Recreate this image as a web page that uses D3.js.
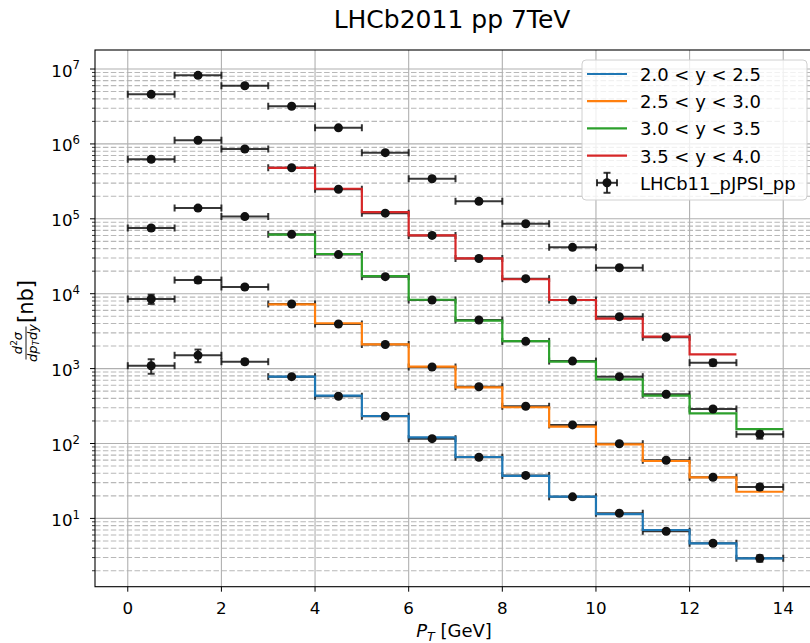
<!DOCTYPE html>
<html><head><meta charset="utf-8">
<script src="https://cdn.jsdelivr.net/npm/d3@7"></script>
<style>
html,body{margin:0;padding:0;background:#fff;}
svg text{font-family:"DejaVu Sans",sans-serif;}
</style></head>
<body>
<svg id="chart" width="810" height="643"></svg>
<script>
// ---- data ----
const ptCenters = [0.5,1.5,2.5,3.5,4.5,5.5,6.5,7.5,8.5,9.5,10.5,11.5,12.5,13.5];
const stepEdges = [3,4,5,6,7,8,9,10,11,12,13,14];
const seriesLabels = ["2.0 < y < 2.5","2.5 < y < 3.0","3.0 < y < 3.5","3.5 < y < 4.0"];
const seriesColors = ["#1f77b4","#ff7f0e","#2ca02c","#d62728"];
const stepBlue   = [780,435,233,121,66,37,19.5,11.4,7.0,4.65,2.93];
const stepOrange = [7200,4030,2110,1060,563,305,168,97.5,58.4,35.4,22.7];
const stepGreen  = [61400,33900,17200,8300,4360,2330,1240,720,435,253,156];
const stepRed    = [480000,252000,123000,60200,29700,15600,8240,4640,2670,1550];
const dataRow1 = [1093,1506,1236,780,427,231,116,65.5,37.5,19.4,11.7,6.73,4.65,2.93];
const errRow1  = [240,290,90,40,20,10,5,3,1.5,0.8,0.5,0.3,0.25,0.3];
const dataRow2 = [8500,15200,12300,7300,3940,2100,1050,573,314,177,99.4,59.7,35.4,26.2];
const errRow2  = [1200,1300,700,300,150,80,40,20,12,7,4,2.5,2,2.5];
const dataRow3 = [75400,139000,107000,62000,33300,16900,8240,4450,2310,1260,780,454,289,133];
const errRow3  = [5000,7000,5000,2500,1300,650,300,170,90,50,30,20,15,17];
const dataRow4 = [623000,1120000,855000,481000,248000,119000,60000,29500,15900,8240,4930,2620,1200];
const errRow4  = [40000,60000,40000,20000,10000,5000,2400,1200,650,350,220,130,110];
const dataRow5 = [4590000,8240000,5980000,3180000,1640000,764000,343000,171000,86000,41600,22200];
const errRow5  = [250000,400000,300000,150000,70000,30000,14000,7000,3500,1800,1100];
const xTicks = [0,2,4,6,8,10,12,14];
const yTickExps = [1,2,3,4,5,6,7];
const dataLabel = "LHCb11_pJPSI_pp";
const titleText = "LHCb2011 pp 7TeV";

// ---- layout ----
const L = 95, R = 816, T = 50, B = 586.7;
const svg = d3.select("#chart");
const x = d3.scaleLinear().domain([-0.7, 14.7]).range([L, R]);
const y = d3.scaleLog().domain([1.2246, 1.795e7]).range([B, T]);

svg.append("defs").append("clipPath").attr("id","clip")
  .append("rect").attr("x",L).attr("y",T).attr("width",R-L).attr("height",B-T);

const grid = svg.append("g");
// minor y grid
const minorVals = [];
for (let e = 0; e <= 7; e++) for (let m = 2; m <= 9; m++) {
  const v = m * Math.pow(10, e);
  if (v > y.domain()[0] && v < y.domain()[1]) minorVals.push(v);
}
grid.selectAll("line.minor").data(minorVals).join("line")
  .attr("x1",L).attr("x2",R).attr("y1",d=>y(d)).attr("y2",d=>y(d))
  .attr("stroke","#b8b8b8").attr("stroke-width",1.1).attr("stroke-dasharray","5.5,2.4");
// major y grid
grid.selectAll("line.majy").data(yTickExps).join("line")
  .attr("x1",L).attr("x2",R).attr("y1",d=>y(Math.pow(10,d))).attr("y2",d=>y(Math.pow(10,d)))
  .attr("stroke","#b0b0b0").attr("stroke-width",1.1);
// major x grid
grid.selectAll("line.majx").data(xTicks).join("line")
  .attr("y1",T).attr("y2",B).attr("x1",d=>x(d)).attr("x2",d=>x(d))
  .attr("stroke","#b0b0b0").attr("stroke-width",1.1);

const plot = svg.append("g").attr("clip-path","url(#clip)");

// error bars (drawn first)
const rows = [[dataRow1,errRow1],[dataRow2,errRow2],[dataRow3,errRow3],[dataRow4,errRow4],[dataRow5,errRow5]];
const pts = [];
rows.forEach(([vals, errs]) => vals.forEach((v,i) => pts.push({x: ptCenters[i], v, e: errs[i]})));
const ebColor = "rgba(20,20,20,0.85)";
const eb = plot.append("g").attr("stroke", ebColor).attr("stroke-width", 2).attr("fill","none");
const cap = 3.5;
pts.forEach(p => {
  const cx = x(p.x), cy = y(p.v), x0 = x(p.x-0.5), x1 = x(p.x+0.5);
  const yt = y(p.v + p.e), yb = y(Math.max(p.v - p.e, 1e-3));
  eb.append("line").attr("x1",x0).attr("x2",x1).attr("y1",cy).attr("y2",cy);
  eb.append("line").attr("x1",x0).attr("x2",x0).attr("y1",cy-cap).attr("y2",cy+cap);
  eb.append("line").attr("x1",x1).attr("x2",x1).attr("y1",cy-cap).attr("y2",cy+cap);
  eb.append("line").attr("x1",cx).attr("x2",cx).attr("y1",yt).attr("y2",yb);
  eb.append("line").attr("x1",cx-cap).attr("x2",cx+cap).attr("y1",yt).attr("y2",yt);
  eb.append("line").attr("x1",cx-cap).attr("x2",cx+cap).attr("y1",yb).attr("y2",yb);
});

// step lines
const steps = [stepBlue, stepOrange, stepGreen, stepRed];
const lineGen = d3.line().x(d=>x(d[0])).y(d=>y(d[1])).curve(d3.curveStepAfter);
steps.forEach((vals, k) => {
  const data = vals.map((v,i)=>[stepEdges[i], v]);
  data.push([stepEdges[vals.length], vals[vals.length-1]]);
  plot.append("path").attr("d", lineGen(data)).attr("fill","none")
    .attr("stroke", seriesColors[k]).attr("stroke-width", 2.2);
});

// markers
plot.selectAll("circle.pt").data(pts).join("circle")
  .attr("cx",d=>x(d.x)).attr("cy",d=>y(d.v)).attr("r",4.5).attr("fill","#111");

// spines
svg.append("rect").attr("x",L).attr("y",T).attr("width",R-L).attr("height",B-T)
  .attr("fill","none").attr("stroke","#000").attr("stroke-width",1.1);

// x ticks
const xt = svg.append("g");
xTicks.forEach(t => {
  xt.append("line").attr("x1",x(t)).attr("x2",x(t)).attr("y1",B).attr("y2",B+5).attr("stroke","#000").attr("stroke-width",1);
  xt.append("text").attr("x",x(t)).attr("y",614).attr("text-anchor","middle").attr("font-size",16.7).text(t);
});
// y ticks
const yt = svg.append("g");
yTickExps.forEach(e => {
  const yy = y(Math.pow(10,e));
  yt.append("line").attr("x1",L-5).attr("x2",L).attr("y1",yy).attr("y2",yy).attr("stroke","#000").attr("stroke-width",1);
  const t = yt.append("text").attr("x",80).attr("y",yy+7.5).attr("text-anchor","end").attr("font-size",16.7);
  t.append("tspan").text("10");
  t.append("tspan").attr("font-size",11.7).attr("dy",-7.2).text(e);
});
minorVals.forEach(v => {
  yt.append("line").attr("x1",L-3).attr("x2",L).attr("y1",y(v)).attr("y2",y(v)).attr("stroke","#000").attr("stroke-width",0.8);
});

// title
svg.append("text").attr("x",452).attr("y",28).attr("text-anchor","middle").attr("font-size",25).text(titleText);

// x label
const xl = svg.append("text").attr("x",454).attr("y",637).attr("text-anchor","middle").attr("font-size",18);
xl.append("tspan").attr("font-style","italic").text("P");
xl.append("tspan").attr("font-style","italic").attr("font-size",12.6).attr("dy",3.5).text("T");
xl.append("tspan").attr("dy",-3.5).text(" [GeV]");

// y label
const yl = svg.append("g").attr("transform","translate(33,319) rotate(-90)");
const fc = -24;
const num = yl.append("text").attr("x",fc).attr("y",-11).attr("text-anchor","middle").attr("font-size",13);
num.append("tspan").attr("font-style","italic").text("d");
num.append("tspan").attr("font-size",9).attr("dy",-5).text("2");
num.append("tspan").attr("font-style","italic").attr("dy",5).text("σ");
yl.append("line").attr("x1",fc-16.5).attr("x2",fc+16.5).attr("y1",-7).attr("y2",-7).attr("stroke","#000").attr("stroke-width",0.9);
const den = yl.append("text").attr("x",fc).attr("y",3.5).attr("text-anchor","middle").attr("font-size",13);
den.append("tspan").attr("font-style","italic").text("dp");
den.append("tspan").attr("font-style","italic").attr("font-size",9).attr("dy",2.5).text("T");
den.append("tspan").attr("font-style","italic").attr("dy",-2.5).text("dy");
yl.append("text").attr("x",-4).attr("y",0).attr("font-size",21).text("[nb]");

// legend
const lg = svg.append("g");
lg.append("rect").attr("x",582).attr("y",60).attr("width",225).attr("height",140).attr("rx",4)
  .attr("fill","rgba(255,255,255,0.8)").attr("stroke","#d0d0d0").attr("stroke-width",1);
const rowY = [74,101.2,128.4,155.6,182.8];
seriesLabels.forEach((s,k) => {
  lg.append("line").attr("x1",587).attr("x2",627).attr("y1",rowY[k]).attr("y2",rowY[k])
    .attr("stroke",seriesColors[k]).attr("stroke-width",2.2);
  lg.append("text").attr("x",640).attr("y",rowY[k]+7).attr("font-size",18).text(s);
});
{
  const cy = rowY[4], cx = 607;
  const g = lg.append("g").attr("stroke",ebColor).attr("stroke-width",2);
  g.append("line").attr("x1",cx-10).attr("x2",cx+10).attr("y1",cy).attr("y2",cy);
  g.append("line").attr("x1",cx-10).attr("x2",cx-10).attr("y1",cy-cap).attr("y2",cy+cap);
  g.append("line").attr("x1",cx+10).attr("x2",cx+10).attr("y1",cy-cap).attr("y2",cy+cap);
  g.append("line").attr("x1",cx).attr("x2",cx).attr("y1",cy-10).attr("y2",cy+10);
  g.append("line").attr("x1",cx-cap).attr("x2",cx+cap).attr("y1",cy-10).attr("y2",cy-10);
  g.append("line").attr("x1",cx-cap).attr("x2",cx+cap).attr("y1",cy+10).attr("y2",cy+10);
  lg.append("circle").attr("cx",cx).attr("cy",cy).attr("r",4.5).attr("fill","#111");
  lg.append("text").attr("x",640).attr("y",cy+7).attr("font-size",18).text(dataLabel);
}
</script>
</body></html>
